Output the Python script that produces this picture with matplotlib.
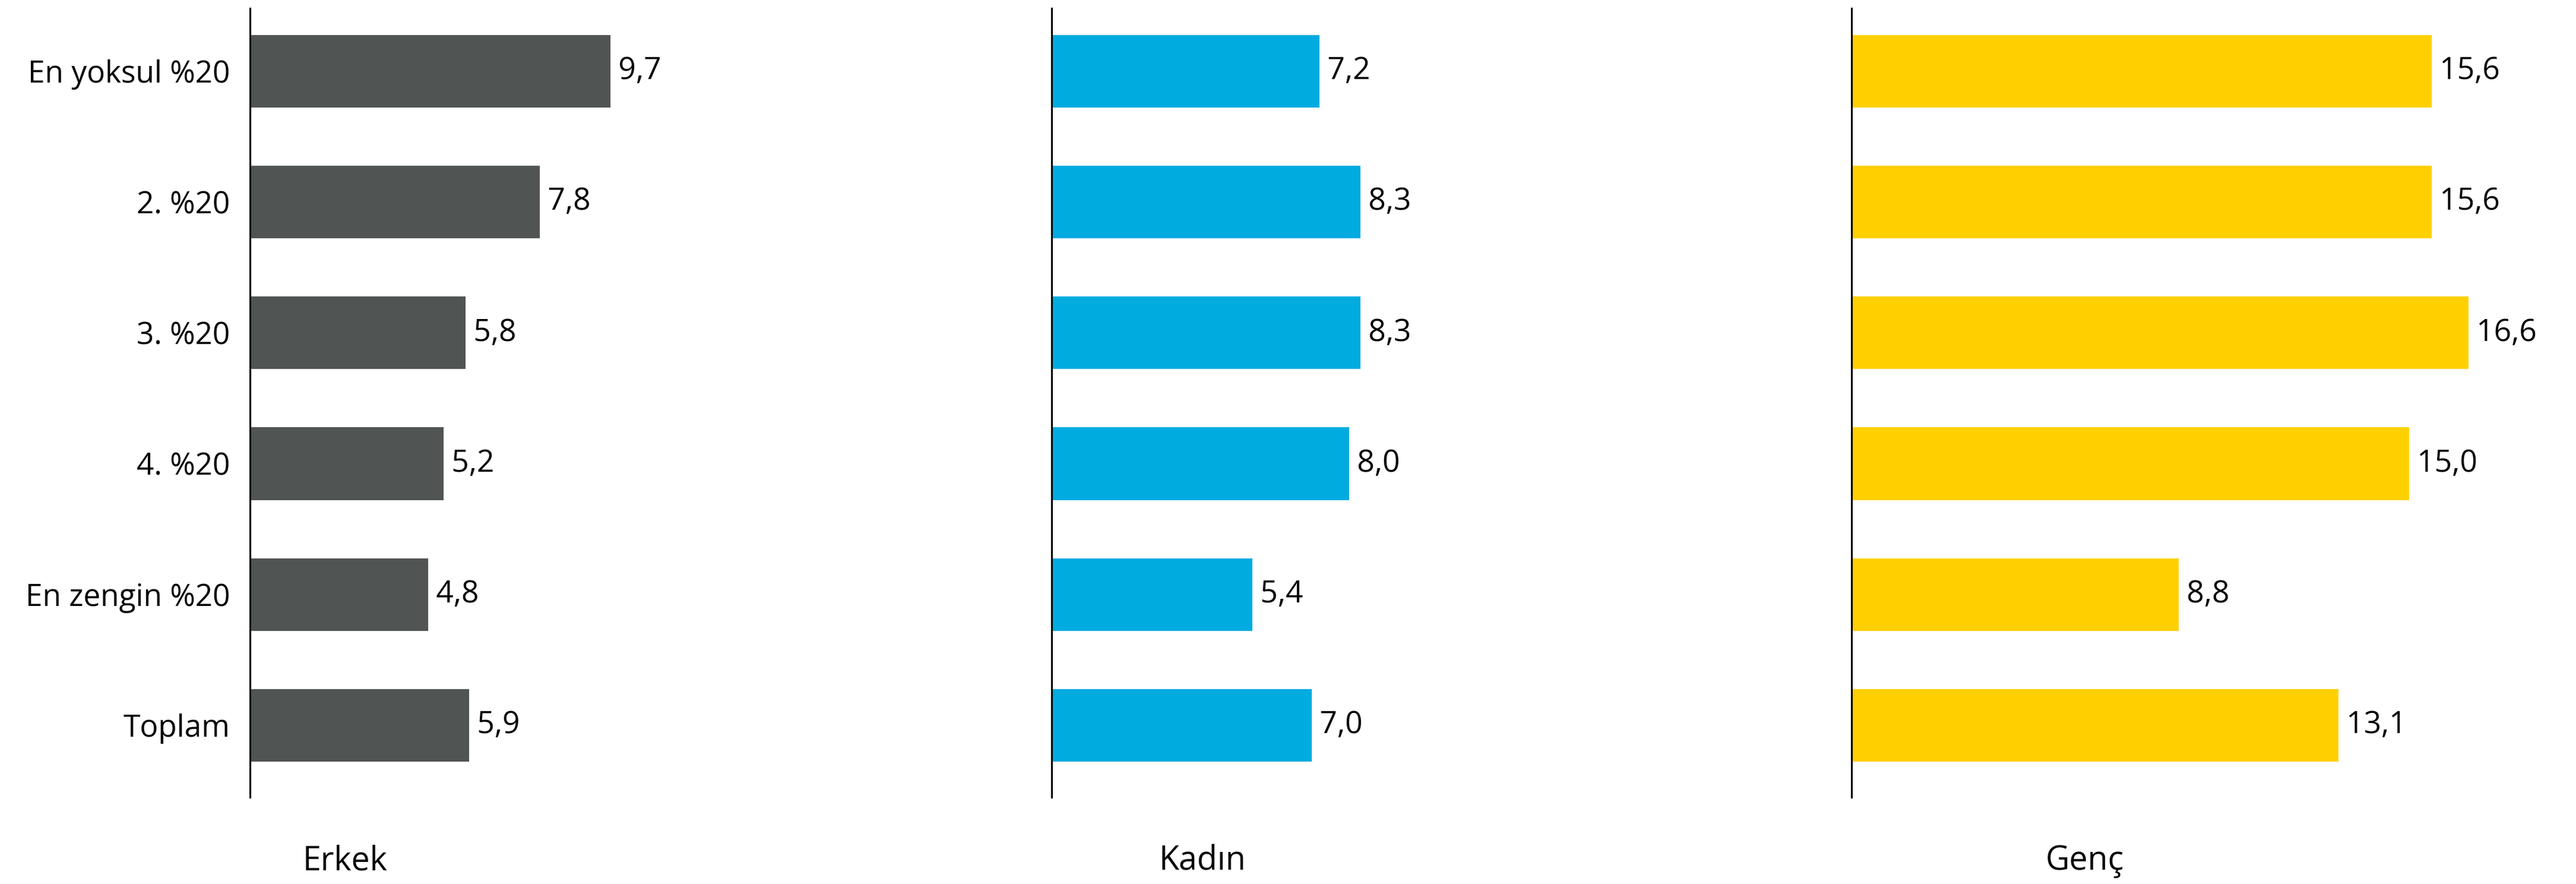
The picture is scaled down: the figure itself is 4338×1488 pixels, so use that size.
import matplotlib
matplotlib.use("Agg")
import matplotlib.pyplot as plt

categories = ["En yoksul %20", "2. %20", "3. %20", "4. %20", "En zengin %20", "Toplam"]
erkek = [9.7, 7.8, 5.8, 5.2, 4.8, 5.9]
kadin = [7.2, 8.3, 8.3, 8.0, 5.4, 7.0]
genc = [15.6, 15.6, 16.6, 15.0, 8.8, 13.1]
panel_titles = ["Erkek", "Kadın", "Genç"]
panel_colors = ["#505554", "#00ABE0", "#FFD000"]

plt.rcParams["font.family"] = ["Open Sans", "DejaVu Sans"]

W, H = 4338, 1488
fig = plt.figure(figsize=(W / 100, H / 100), dpi=100)
fig.patch.set_facecolor("white")

lefts = [421, 1771, 3118]
title_x = [581, 2025, 3511]
ax_w = 1200
px_per_unit = 62.6
bottom = 1 - 1342 / H
top = 1 - 14 / H

for i, (vals, title, color) in enumerate(zip([erkek, kadin, genc], panel_titles, panel_colors)):
    ax = fig.add_axes([lefts[i] / W, bottom, ax_w / W, top - bottom])
    y = list(range(len(categories)))
    ax.barh(y, vals, height=0.555, color=color)
    ax.set_xlim(0, ax_w / px_per_unit)
    ax.set_ylim(5.55, -0.48)
    for s in ["top", "right", "bottom"]:
        ax.spines[s].set_visible(False)
    ax.spines["left"].set_linewidth(2.2)
    ax.spines["left"].set_color("black")
    ax.set_xticks([])
    ax.tick_params(axis="y", length=0, pad=24)
    if i == 0:
        ax.set_yticks(y)
        ax.set_yticklabels(categories, fontsize=37)
    else:
        ax.set_yticks([])
    # etiketler çubuğun hemen sağında
    for yy, v in zip(y, vals):
        ax.text(v, yy, " " + f"{v:.1f}".replace(".", ","), fontsize=37,
                ha="left", va="center")
    fig.text(title_x[i] / W, 1 - 1450 / H, title, fontsize=40,
             ha="center", va="center")

fig.savefig("out.png", dpi=100, facecolor="white")
